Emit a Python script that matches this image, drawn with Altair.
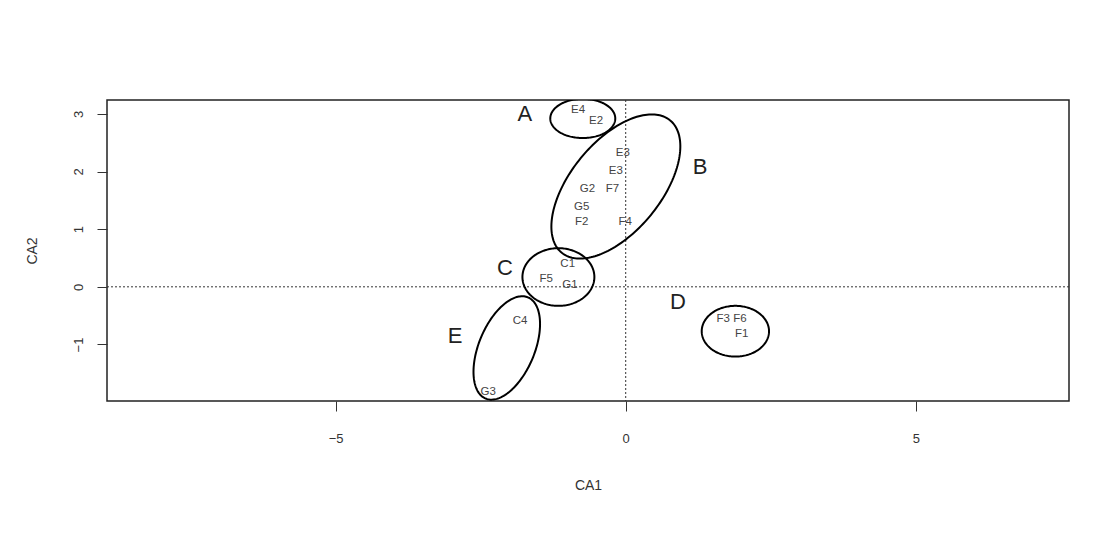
import numpy as np
import pandas as pd
import altair as alt

# ---- data ----
labels = ["E4", "E2", "E3", "E3", "G2", "F7", "G5", "F2", "F4",
          "C1", "F5", "G1", "C4", "G3", "F3", "F6", "F1"]
ca1 = [-0.82, -0.51, -0.05, -0.17, -0.66, -0.23, -0.76, -0.76, -0.01,
       -1.00, -1.37, -0.96, -1.82, -2.37, 1.68, 1.97, 2.00]
ca2 = [3.07, 2.88, 2.32, 2.01, 1.69, 1.69, 1.39, 1.13, 1.13,
       0.39, 0.13, 0.03, -0.59, -1.82, -0.55, -0.55, -0.82]

groups = ["A", "B", "C", "D", "E"]
group_x = [-1.74, 1.28, -2.08, 0.90, -2.94]
group_y = [2.99, 2.08, 0.32, -0.27, -0.86]

# ellipse annotations: centre, semi-axes (data units), rotation (deg)
ell_cx = [-0.74, -0.17, -1.16, 1.89, -2.05]
ell_cy = [2.92, 1.74, 0.17, -0.77, -1.06]
ell_a = [0.56, 1.48, 0.62, 0.58, 0.95]
ell_b = [0.34, 0.78, 0.50, 0.44, 0.48]
ell_angle = [0.0, 51.0, 0.0, 0.0, 67.5]

x_ticks = [-5, 0, 5]
y_ticks = [-1, 0, 1, 2, 3]
x_domain = [-8.94, 7.64]
y_domain = [-1.98, 3.24]

FONT = "Liberation Sans"

pts = pd.DataFrame({"CA1": ca1, "CA2": ca2, "label": labels})
grp = pd.DataFrame({"CA1": group_x, "CA2": group_y, "label": groups})

rows = []
t = np.linspace(0, 2 * np.pi, 181)
for g, cx, cy, a, b, ang in zip(groups, ell_cx, ell_cy, ell_a, ell_b, ell_angle):
    th = np.deg2rad(ang)
    xs = cx + a * np.cos(t) * np.cos(th) - b * np.sin(t) * np.sin(th)
    ys = cy + a * np.cos(t) * np.sin(th) + b * np.sin(t) * np.cos(th)
    for i, (xv, yv) in enumerate(zip(xs, ys)):
        rows.append({"g": g, "i": i, "CA1": xv, "CA2": yv})
ell = pd.DataFrame(rows)

xscale = alt.Scale(domain=x_domain, nice=False, zero=False)
yscale = alt.Scale(domain=y_domain, nice=False, zero=False)

xaxis = alt.Axis(values=x_ticks, title="CA1", grid=False, domain=False,
                 tickSize=10, tickColor="#333", labelPadding=21,
                 labelFontSize=13, labelColor="#333", labelFont=FONT,
                 titleFont=FONT, titleFontSize=14, titleFontWeight="normal",
                 titleColor="#333", titlePadding=33, format="d")
yaxis = alt.Axis(values=y_ticks, title="CA2", grid=False, domain=False,
                 tickSize=10, tickColor="#333", labelPadding=12,
                 labelAngle=270, labelAlign="center", labelBaseline="bottom",
                 labelFontSize=13, labelColor="#333", labelFont=FONT,
                 titleFont=FONT, titleFontSize=14, titleFontWeight="normal",
                 titleColor="#333", titlePadding=33, format="d")

base_axes = alt.Chart(pts).mark_text(opacity=0).encode(
    x=alt.X("CA1:Q", scale=xscale, axis=xaxis),
    y=alt.Y("CA2:Q", scale=yscale, axis=yaxis),
)

zero = pd.DataFrame({"v": [0]})
hline = alt.Chart(zero).mark_rule(strokeDash=[2, 2], color="#333", strokeWidth=1).encode(
    y=alt.Y("v:Q", scale=yscale))
vline = alt.Chart(zero).mark_rule(strokeDash=[2, 2], color="#333", strokeWidth=1).encode(
    x=alt.X("v:Q", scale=xscale))

ellipses = alt.Chart(ell).mark_line(color="black", strokeWidth=2, clip=True).encode(
    x=alt.X("CA1:Q", scale=xscale),
    y=alt.Y("CA2:Q", scale=yscale),
    detail="g:N",
    order="i:Q",
)

point_labels = alt.Chart(pts).mark_text(font=FONT, fontSize=11.5, color="#444").encode(
    x=alt.X("CA1:Q", scale=xscale),
    y=alt.Y("CA2:Q", scale=yscale),
    text="label:N",
)

group_labels = alt.Chart(grp).mark_text(font=FONT, fontSize=22, color="#222").encode(
    x=alt.X("CA1:Q", scale=xscale),
    y=alt.Y("CA2:Q", scale=yscale),
    text="label:N",
)

chart = alt.layer(base_axes, hline, vline, ellipses, point_labels, group_labels).properties(
    width=962, height=301,
    autosize=alt.AutoSizeParams(type="none"),
    padding={"left": 99, "top": 92, "right": 35, "bottom": 126},
    background="white",
).configure_view(stroke="#222", strokeWidth=1.5)

chart.save("out.html", embed_options={"renderer": "svg", "actions": False})
